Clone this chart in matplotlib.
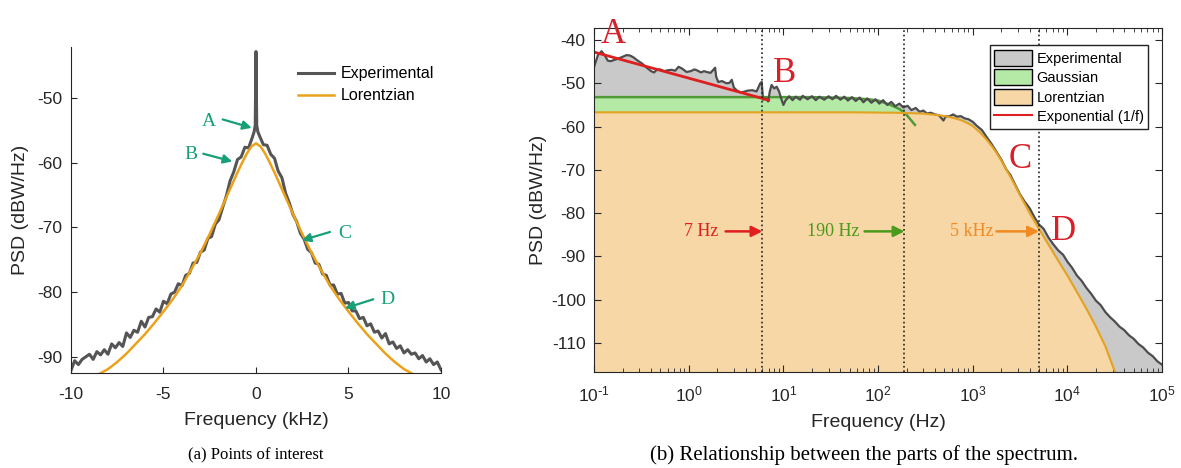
import numpy as np
import matplotlib
matplotlib.use("Agg")
import matplotlib.pyplot as plt
from matplotlib.patches import Patch
from matplotlib.lines import Line2D

plt.rcParams['font.family'] = ['Liberation Sans', 'DejaVu Sans']
plt.rcParams['mathtext.default'] = 'regular'
plt.rcParams['axes.unicode_minus'] = False

# ---- (a) linear spectrum, kHz ----
exp_khz = [-10.0, -9.8, -9.6, -9.4, -9.2, -9.0, -8.8, -8.6, -8.4, -8.2,
           -8.0, -7.8, -7.6, -7.4, -7.2, -7.0, -6.8, -6.6, -6.4, -6.2,
           -6.0, -5.8, -5.6, -5.4, -5.2, -5.0, -4.8, -4.6, -4.4, -4.2,
           -4.0, -3.8, -3.6, -3.4, -3.2, -3.0, -2.8, -2.6, -2.4, -2.2,
           -2.0, -1.8, -1.6, -1.4, -1.2, -1.0, -0.8, -0.6, -0.4, -0.2,
           -0.1, -0.04, 0.0, 0.04, 0.1,
           0.2, 0.4, 0.6, 0.8, 1.0, 1.2, 1.4, 1.6, 1.8, 2.0,
           2.2, 2.4, 2.6, 2.8, 3.0, 3.2, 3.4, 3.6, 3.8, 4.0,
           4.2, 4.4, 4.6, 4.8, 5.0, 5.2, 5.4, 5.6, 5.8, 6.0,
           6.2, 6.4, 6.6, 6.8, 7.0, 7.2, 7.4, 7.6, 7.8, 8.0,
           8.2, 8.4, 8.6, 8.8, 9.0, 9.2, 9.4, 9.6, 9.8, 10.0]
exp_db_a = [-92.1, -90.6, -91.2, -90.4, -90.0, -89.6, -90.4, -89.2, -89.7, -88.9,
            -89.6, -88.0, -88.6, -87.8, -88.4, -86.3, -87.0, -85.9, -86.2, -84.5,
            -85.4, -83.9, -83.8, -82.6, -83.1, -81.4, -81.8, -80.3, -80.0, -78.7,
            -79.0, -77.4, -77.1, -75.5, -75.4, -73.8, -73.5, -71.7, -71.4, -69.5,
            -68.8, -66.9, -65.1, -62.8, -61.4, -59.5, -59.1, -57.6, -57.7, -56.1,
            -55.2, -54.2, -42.8, -54.2, -55.2,
            -55.9, -57.2, -57.3, -58.7, -59.3, -61.3, -62.3, -64.7, -66.2, -68.0,
            -69.1, -70.9, -71.8, -73.4, -73.9, -75.5, -75.7, -77.2, -77.4, -78.9,
            -78.9, -80.3, -80.2, -81.7, -81.6, -82.9, -82.9, -84.1, -83.9, -85.2,
            -84.9, -86.2, -86.0, -87.1, -86.4, -88.0, -87.7, -88.7, -88.3, -89.4,
            -88.9, -89.6, -89.4, -90.3, -89.8, -90.8, -90.3, -91.2, -90.8, -92.0]

lor_khz = [-8.7, -8.0, -7.5, -7.0, -6.5, -6.0, -5.5, -5.0, -4.5, -4.0, -3.5, -3.0,
           -2.5, -2.0, -1.5, -1.25, -1.0, -0.75, -0.5, -0.25, 0.0,
           0.25, 0.5, 0.75, 1.0, 1.25, 1.5, 2.0, 2.5, 3.0, 3.5, 4.0, 4.5,
           5.0, 5.5, 6.0, 6.5, 7.0, 7.5, 8.0, 8.7]
lor_db_a = [-93.0, -91.9, -90.8, -89.5, -88.0, -86.5, -84.8, -83.0, -81.1, -79.0, -76.5, -73.9,
            -71.0, -67.9, -64.7, -63.1, -61.5, -60.0, -58.6, -57.5, -57.0,
            -57.5, -58.6, -60.0, -61.5, -63.1, -64.7, -67.9, -71.0, -73.9, -76.5, -79.0, -81.1,
            -83.0, -84.8, -86.5, -88.0, -89.5, -90.8, -91.9, -93.0]

# ---- (b) log spectrum, Hz ----
exp_hz = [0.10, 0.11, 0.12, 0.13, 0.14, 0.15, 0.165, 0.18, 0.20, 0.22, 0.24, 0.26,
          0.29, 0.32, 0.36, 0.40, 0.43, 0.46, 0.50, 0.55, 0.60, 0.66, 0.72, 0.78,
          0.85, 0.95, 1.05, 1.15, 1.22, 1.35, 1.45, 1.55, 1.70, 1.82, 1.90, 1.95,
          2.05, 2.25, 2.5, 2.7, 2.85, 3.0, 3.2, 3.5, 3.8, 4.2, 4.7, 5.2, 5.7, 5.9,
          6.1, 6.5, 6.9, 7.2, 7.5, 8.0, 8.5, 9.0, 9.6, 10.0, 10.5, 11.5, 12.5, 13.5,
          15, 16, 18, 20, 22, 24, 27, 30, 33, 36, 40, 44, 48, 53, 58, 64, 70, 77,
          85, 94, 103, 113, 125, 138, 152, 168, 185, 205, 225, 250, 275, 300, 330,
          360, 400, 440, 490, 520, 560, 620, 680, 750, 820, 900,
          1000, 1100, 1250, 1400, 1600, 1800, 2000, 2250, 2500, 2800, 3150, 3500,
          4000, 4500, 5000, 5600, 6300, 7100, 8000, 9000, 10000, 11200, 12600,
          14100, 15800, 17800, 20000, 22400, 25100, 28200, 31600, 35500, 39800,
          44700, 50100, 56200, 63100, 70800, 79400, 89100, 100000]
exp_db_b = [-46.2, -43.5, -42.6, -43.6, -44.8, -44.9, -44.6, -44.3, -43.9, -43.5, -43.6, -44.0,
            -44.8, -45.4, -46.4, -47.2, -47.5, -46.9, -46.8, -47.2, -47.0, -46.9, -47.1, -46.2,
            -46.6, -47.4, -47.2, -46.8, -47.0, -47.5, -47.2, -47.4, -47.6, -46.9, -46.4, -48.5,
            -49.7, -49.5, -50.0, -49.9, -49.2, -51.0, -51.6, -52.1, -52.0, -51.7, -51.6, -51.9, -50.0, -49.7,
            -53.8, -53.5, -54.2, -51.8, -50.4, -51.2, -50.8, -51.9, -53.9, -55.0, -54.0, -53.0, -53.9, -53.1,
            -53.8, -52.9, -53.7, -53.0, -53.9, -53.1, -53.8, -53.0, -53.7, -52.9, -53.8, -53.1, -54.0, -53.2, -54.1, -53.3, -54.4, -53.5,
            -54.5, -53.7, -54.7, -53.9, -55.0, -54.3, -55.3, -54.7, -55.6, -55.2, -56.2, -55.7, -56.6, -56.3, -57.0,
            -56.8, -57.2, -57.4, -58.6, -57.6, -57.7, -57.2, -57.7, -57.6, -58.1, -58.3,
            -58.9, -59.8, -60.8, -62.4, -64.2, -66.0, -67.6, -69.8, -71.2, -73.4, -75.6, -77.2,
            -78.9, -81.0, -82.6, -83.6, -85.6, -87.2, -88.6, -89.6, -91.2, -92.6, -94.4,
            -95.6, -97.2, -98.6, -100.2, -101.2, -102.8, -104.0, -105.0, -106.2, -107.0,
            -108.2, -109.0, -110.2, -111.0, -112.2, -113.0, -114.2, -115.0]

lor_hz = [0.1, 50, 150, 300, 450, 600, 750, 900, 1000, 1200, 1400, 1600, 1800, 2000,
          2400, 2800, 3300, 4000, 5000, 6300, 8000, 10000, 12600, 16000, 20000, 25000,
          31600, 33000]
lor_db_b = [-56.7, -56.7, -56.8, -57.0, -57.4, -57.9, -58.5, -59.3, -59.9, -61.4, -63.0, -64.6, -66.2, -67.8,
            -70.9, -73.6, -76.6, -80.0, -83.6, -87.2, -91.0, -94.4, -98.2, -102.2, -106.2, -110.6,
            -116.5, -117.5]

gauss_hz = [0.1, 20, 50, 80, 100, 135, 170, 200, 245]
gauss_db = [-53.2, -53.2, -53.4, -53.7, -54.0, -55.0, -56.0, -57.3, -59.6]

exp_fit_hz = [0.1, 7.0]
exp_fit_db = [-42.8, -53.9]

corner_hz = [6, 190, 5000]
corner_labels = ['7 Hz', '190 Hz', '5 kHz']
corner_text_hz = [2.05, 64, 1660]
corner_arrow_hz = [2.45, 72, 1780]
corner_colors = ['#e02020', '#4a9a1c', '#f28a22']

tick_color = '#262626'
serif = ['Liberation Serif', 'DejaVu Serif']
green_txt = '#17a078'

fig = plt.figure(figsize=(11.81, 4.68), dpi=100)

# ================= panel (a) =================
ax1 = fig.add_axes([0.0601, 0.203, 0.3133, 0.6966])
ax1.plot(exp_khz, exp_db_a, color='#555555', lw=2.2, label='Experimental')
ax1.plot(lor_khz, lor_db_a, color='#eba21a', lw=1.8, label='Lorentzian')
ax1.set_xlim(-10, 10)
ax1.set_ylim(-92.5, -42.1)
ax1.set_xticks([-10, -5, 0, 5, 10])
ax1.set_yticks([-90, -80, -70, -60, -50])
ax1.spines['top'].set_visible(False)
ax1.spines['right'].set_visible(False)
for s in ['left', 'bottom']:
    ax1.spines[s].set_color(tick_color)
ax1.tick_params(direction='in', length=4, labelsize=12.5, colors=tick_color)
ax1.tick_params(axis='x', pad=10)
ax1.tick_params(axis='y', pad=6)
ax1.set_xlabel('Frequency (kHz)', fontsize=14, color=tick_color, labelpad=7)
ax1.set_ylabel('PSD (dBW/Hz)', fontsize=14, color=tick_color, labelpad=6)
ax1.legend(loc='upper right', bbox_to_anchor=(1.02, 0.985), frameon=False, fontsize=11.5,
           handlelength=2.3, handletextpad=0.4, labelspacing=0.45)

pts_a = [('A', (-2.54, -53.6), (-1.8, -53.3), (-0.23, -54.6)),
         ('B', (-3.53, -58.7), (-2.85, -58.6), (-1.28, -59.8)),
         ('C', (4.81, -70.9), (4.0, -70.7), (2.47, -72.0)),
         ('D', (7.10, -81.1), (6.34, -81.1), (4.81, -82.5))]
for lab, tpos, tail, tip in pts_a:
    ax1.text(tpos[0], tpos[1], lab, color=green_txt, fontsize=14, family=serif,
             ha='center', va='center')
    ax1.annotate('', xy=tip, xytext=tail,
                 arrowprops=dict(arrowstyle='-|>', color=green_txt, lw=1.6,
                                 mutation_scale=13, shrinkA=0, shrinkB=0))

# ================= panel (b) =================
ax2 = fig.add_axes([0.503, 0.2058, 0.481, 0.7338])
ax2.set_xscale('log')
bottom = -116.6
ax2.fill_between(exp_hz, exp_db_b, bottom, color='#c9c9c9', lw=0)
lg = np.interp(np.log10(gauss_hz), np.log10(lor_hz), lor_db_b)
ax2.fill_between(gauss_hz, gauss_db, lg, where=np.array(gauss_db) >= lg,
                 interpolate=True, color='#b5eaa6', lw=0)
ax2.fill_between(lor_hz, lor_db_b, bottom, color='#f7d7a6', lw=0)
ax2.plot(gauss_hz, gauss_db, color='#4f9a36', lw=1.8)
ax2.plot(exp_hz, exp_db_b, color='#4d4d4d', lw=1.6)
ax2.plot(lor_hz, lor_db_b, color='#e3a21f', lw=1.5)
ax2.plot(exp_fit_hz, exp_fit_db, color='#dd1f1f', lw=2.0)
for f in corner_hz:
    ax2.axvline(f, color='#222222', lw=1.2, ls=':')

ax2.set_xlim(0.1, 1e5)
ax2.set_ylim(bottom, -37.3)
ax2.set_yticks([-110, -100, -90, -80, -70, -60, -50, -40])
ax2.set_xticks([0.1, 1, 10, 100, 1000, 10000, 100000])
ax2.set_xticklabels(['$10^{\\text{-}1}$', '$10^{0}$', '$10^{1}$', '$10^{2}$',
                     '$10^{3}$', '$10^{4}$', '$10^{5}$'])
ax2.tick_params(which='both', direction='in', top=True, right=True, colors=tick_color)
ax2.tick_params(which='major', length=5, labelsize=12.5)
ax2.tick_params(axis='x', which='major', pad=9)
ax2.tick_params(axis='y', which='major', pad=6)
ax2.tick_params(which='minor', length=3)
for s in ax2.spines.values():
    s.set_color(tick_color)
ax2.set_xlabel('Frequency (Hz)', fontsize=14, color=tick_color, labelpad=7)
ax2.set_ylabel('PSD (dBW/Hz)', fontsize=14, color=tick_color, labelpad=3)

for lab, f, db in [('A', 0.16, -40.8), ('B', 10.2, -49.7), ('C', 3200, -69.5), ('D', 9060, -86.3)]:
    ax2.text(f, db, lab, color='#d8202a', fontsize=25, family=serif, ha='center', va='baseline')

for lab, f_line, f_txt, f_arr, col in zip(corner_labels, corner_hz, corner_text_hz,
                                          corner_arrow_hz, corner_colors):
    ax2.text(f_txt, -84.2, lab, color=col, fontsize=13, family=serif, ha='right', va='center')
    ax2.annotate('', xy=(f_line, -84.2), xytext=(f_arr, -84.2),
                 arrowprops=dict(arrowstyle='-|>', color=col, lw=1.8,
                                 mutation_scale=16, shrinkA=0, shrinkB=0))

handles = [Patch(facecolor='#c9c9c9', edgecolor='black', label='Experimental'),
           Patch(facecolor='#b5eaa6', edgecolor='black', label='Gaussian'),
           Patch(facecolor='#f7d7a6', edgecolor='black', label='Lorentzian'),
           Line2D([], [], color='#dd1f1f', lw=1.5, label='Exponential (1/f)')]
leg = ax2.legend(handles=handles, loc='upper right', bbox_to_anchor=(0.975, 0.95),
                 fontsize=10.5, fancybox=False, framealpha=1, edgecolor='#222222',
                 handlelength=2.6, handleheight=1.3, handletextpad=0.3,
                 labelspacing=0.25, borderpad=0.3, borderaxespad=0)
leg.get_frame().set_linewidth(1.0)

fig.text(0.2168, 0.028, '(a) Points of interest', family=serif, fontsize=12,
         ha='center', va='center')
fig.text(0.7316, 0.028, '(b) Relationship between the parts of the spectrum.',
         family=serif, fontsize=15, ha='center', va='center')

fig.savefig('out.png', dpi=100)
